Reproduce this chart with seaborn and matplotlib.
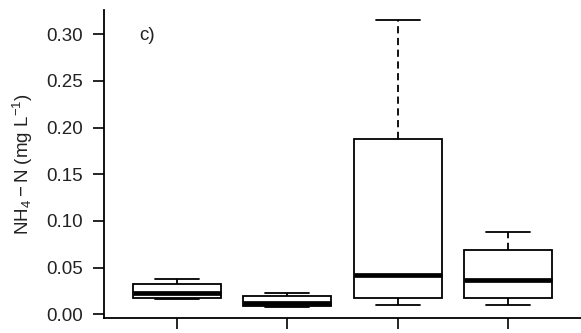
import numpy as np
import pandas as pd
import seaborn as sns
import matplotlib.pyplot as plt

# five-number summaries (min, Q1, median, Q3, max)
groups = ['1', '2', '3', '4']
mins = [0.0165, 0.0075, 0.0096, 0.0103]
q1 = [0.0171, 0.0086, 0.0171, 0.0171]
med = [0.0232, 0.0125, 0.0423, 0.0371]
q3 = [0.0328, 0.0193, 0.1880, 0.0689]
maxs = [0.0375, 0.0225, 0.3157, 0.0878]
yticks = [0.00, 0.05, 0.10, 0.15, 0.20, 0.25, 0.30]

rows = []
for g, a, b, c, d, e in zip(groups, mins, q1, med, q3, maxs):
    for v in (a, b, c, d, e):
        rows.append({'group': g, 'value': v})
df = pd.DataFrame(rows)

sns.set_style('ticks')
plt.rcParams['font.family'] = ['Liberation Sans', 'DejaVu Sans']
plt.rcParams['mathtext.fontset'] = 'custom'
plt.rcParams['mathtext.rm'] = 'Liberation Sans'
plt.rcParams['mathtext.it'] = 'Liberation Sans:italic'

fig = plt.figure(figsize=(5.81, 3.33), dpi=100)
ax = fig.add_axes([0.179, 0.044, 0.821, 0.926])

sns.boxplot(data=df, x='group', y='value', order=groups, color='white',
            saturation=1, linecolor='black', linewidth=1.3, width=0.8,
            whis=(0, 100), ax=ax,
            medianprops=dict(linewidth=3.4),
            whiskerprops=dict(linestyle=(0, (4, 2.5))))

ax.set_xlim(-0.66, 3.66)
ax.set_ylim(-0.0043, 0.326)
ax.set_xticks(range(len(groups)))
ax.set_xticklabels([])
ax.set_yticks(yticks)
ax.set_yticklabels([f'{t:.2f}' for t in yticks])
ax.tick_params(axis='both', length=8, width=1.2, color='black',
               labelsize=13.5, pad=7, labelcolor='#222222')
ax.set_xlabel('')
ax.set_ylabel(r'$\mathrm{NH_4 - N\ (mg\ L^{-1})}$', fontsize=13.5,
              color='#222222', labelpad=8)
for s in ['top', 'right']:
    ax.spines[s].set_visible(False)
for s in ['left', 'bottom']:
    ax.spines[s].set_linewidth(1.3)
    ax.spines[s].set_color('black')

ax.text(-0.27, 0.299, 'c)', fontsize=13.5, ha='center', va='center',
        color='#222222')

fig.savefig('out.png', dpi=100)
